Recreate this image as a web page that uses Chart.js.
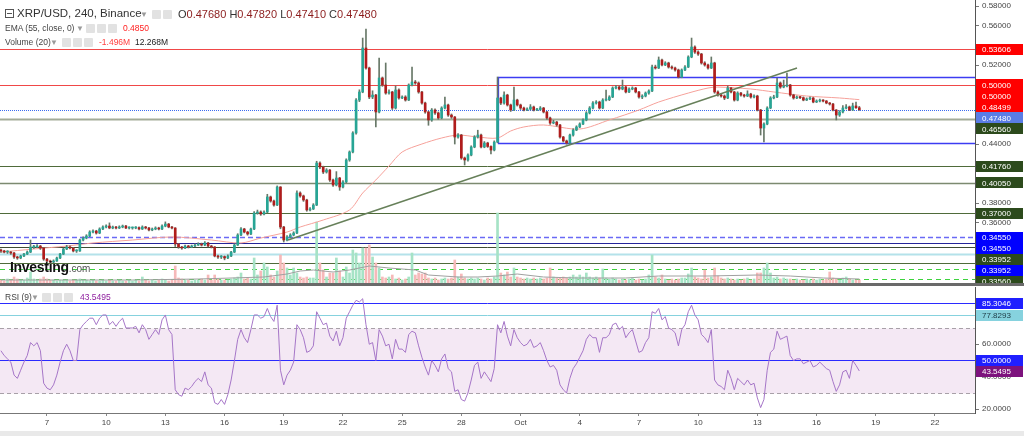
<!DOCTYPE html>
<html lang="en">
<head>
<meta charset="UTF-8">
<title>XRP/USD, 240, Binance</title>
<script src="https://cdn.jsdelivr.net/npm/chart.js"></script>
<style>
    html, body { margin: 0; padding: 0; background: #fff; }
    body { width: 1024px; height: 436px; position: relative; overflow: hidden; font-family: "Liberation Sans", Arial, sans-serif; }
    #priceCanvas { position: absolute; left: 0; top: 0; }
    #rsiCanvas { position: absolute; left: 0; top: 286px; }
    #sep { position: absolute; left: 0; top: 283px; width: 1024px; height: 3px; background: #6a6a6a; }
    #bottomBand { position: absolute; left: 0; top: 431px; width: 1024px; height: 5px; background: #e9e9e9; }
    .txt { position: absolute; white-space: nowrap; }
    .ico { position: absolute; width: 9px; height: 9px; background: #e2e2e2; border-radius: 1px; }
    .arr { position: absolute; color: #9a9a9a; font-size: 8px; }
</style>
</head>
<body>

<canvas id="priceCanvas" width="1024" height="283"></canvas>
<div id="sep"></div>
<canvas id="rsiCanvas" width="1024" height="150"></canvas>
<div id="bottomBand"></div>

<!-- legend, top left -->
<div class="txt" style="left:5px;top:9px;width:7px;height:7px;border:1px solid #555;"></div>
<div class="txt" style="left:7px;top:13px;width:5px;height:1px;background:#555;"></div>
<div class="txt" style="left:17px;top:7px;font-size:11.5px;color:#333;">XRP/USD, 240, Binance</div>
<div class="arr" style="left:140px;top:10px;">&#9660;</div>
<div class="ico" style="left:152px;top:10px;"></div>
<div class="ico" style="left:163px;top:10px;"></div>
<div class="txt" style="left:178px;top:8px;font-size:11px;color:#333;">O<span style="color:#8b1c1c">0.47680</span>&nbsp;H<span style="color:#8b1c1c">0.47820</span>&nbsp;L<span style="color:#8b1c1c">0.47410</span>&nbsp;C<span style="color:#8b1c1c">0.47480</span></div>

<div class="txt" style="left:5px;top:23px;font-size:8.5px;color:#444;">EMA (55, close, 0)</div>
<div class="arr" style="left:76px;top:24px;">&#9660;</div>
<div class="ico" style="left:86px;top:24px;"></div>
<div class="ico" style="left:97px;top:24px;"></div>
<div class="ico" style="left:108px;top:24px;"></div>
<div class="txt" style="left:123px;top:23px;font-size:8.5px;color:#ff2020;">0.4850</div>

<div class="txt" style="left:5px;top:37px;font-size:8.5px;color:#444;">Volume (20)</div>
<div class="arr" style="left:50px;top:38px;">&#9660;</div>
<div class="ico" style="left:62px;top:38px;"></div>
<div class="ico" style="left:73px;top:38px;"></div>
<div class="ico" style="left:84px;top:38px;"></div>
<div class="txt" style="left:99px;top:37px;font-size:8.5px;color:#ff4040;">-1.496M</div>
<div class="txt" style="left:135px;top:37px;font-size:8.5px;color:#222;">12.268M</div>

<div class="txt" style="left:10px;top:259px;font-size:14px;font-weight:bold;color:#111;letter-spacing:-0.3px;">Investing<span style="font-size:10px;font-weight:normal;color:#555;letter-spacing:0;">.com</span></div>

<div class="txt" style="left:5px;top:292px;font-size:8.5px;color:#444;">RSI (9)</div>
<div class="arr" style="left:31px;top:293px;">&#9660;</div>
<div class="ico" style="left:42px;top:293px;"></div>
<div class="ico" style="left:53px;top:293px;"></div>
<div class="ico" style="left:64px;top:293px;"></div>
<div class="txt" style="left:80px;top:292px;font-size:8.5px;color:#8e1f9e;">43.5495</div>

<script>
    // 240-minute candles, first one on 4 Sep 16:00 (x axis in days, Oct 1 = 31)
    const startDay = 4 + 16 / 24;
    const candleStep = 1 / 6;
    const firstOpen = 0.3320;

    const closes = [
        0.3315,0.3304,0.3304,0.3294,0.3254,0.3244,0.3264,0.3284,0.3304,0.3355,
        0.3355,0.3365,0.3345,0.3233,0.3213,0.3203,0.3213,0.3244,0.3284,0.3335,
        0.3355,0.3345,0.3315,0.3315,0.3426,0.3446,0.3467,0.3507,0.3517,0.3497,
        0.3538,0.3558,0.3568,0.3548,0.3558,0.3548,0.3558,0.3568,0.3548,0.3548,
        0.3548,0.3552,0.3538,0.3558,0.3548,0.3528,0.3538,0.3548,0.3538,0.3568,
        0.3588,0.3558,0.3548,0.3386,0.3355,0.3345,0.3365,0.3355,0.3365,0.3375,
        0.3386,0.3375,0.3396,0.3365,0.3355,0.3264,0.3254,0.3258,0.3244,0.3264,
        0.3304,0.3375,0.3477,0.3538,0.3507,0.3487,0.3538,0.3700,0.3710,0.3690,
        0.3710,0.3863,0.3822,0.3781,0.3964,0.3558,0.3426,0.3457,0.3477,0.3497,
        0.3903,0.3873,0.3832,0.3731,0.3741,0.3781,0.4207,0.4167,0.4116,0.4136,
        0.4035,0.3984,0.4055,0.3964,0.4015,0.4238,0.4319,0.4512,0.4846,0.4928,
        0.5374,0.5171,0.4877,0.4897,0.4725,0.5070,0.4999,0.4917,0.4928,0.4765,
        0.4948,0.4867,0.4877,0.4846,0.4999,0.5029,0.5019,0.4928,0.4816,0.4725,
        0.4644,0.4745,0.4715,0.4664,0.4765,0.4796,0.4694,0.4674,0.4471,0.4491,
        0.4258,0.4238,0.4288,0.4370,0.4471,0.4491,0.4370,0.4410,0.4375,0.4339,
        0.4420,0.4867,0.4816,0.4897,0.4796,0.4745,0.4846,0.4796,0.4765,0.4745,
        0.4755,0.4776,0.4745,0.4750,0.4765,0.4725,0.4664,0.4613,0.4623,0.4593,
        0.4471,0.4431,0.4410,0.4491,0.4542,0.4573,0.4603,0.4644,0.4715,0.4765,
        0.4816,0.4826,0.4765,0.4846,0.4850,0.4877,0.4968,0.4978,0.4958,0.4978,
        0.4928,0.4958,0.4968,0.4928,0.4877,0.4887,0.4917,0.4938,0.5181,0.5171,
        0.5252,0.5202,0.5222,0.5181,0.5171,0.5151,0.5080,0.5151,0.5181,0.5283,
        0.5384,0.5333,0.5313,0.5222,0.5202,0.5171,0.5222,0.4928,0.4897,0.4887,
        0.4867,0.4968,0.4928,0.4846,0.4917,0.4897,0.4887,0.4907,0.4877,0.4887,
        0.4745,0.4562,0.4603,0.4765,0.4867,0.4877,0.5019,0.4978,0.4988,0.4999,
        0.4897,0.4867,0.4877,0.4870,0.4846,0.4857,0.4867,0.4826,0.4836,0.4846,
        0.4836,0.4816,0.4806,0.4745,0.4694,0.4725,0.4765,0.4776,0.4745,0.4786,
        0.4768,0.4748
    ];
    const highs = [
        0.3335,0.3322,0.3318,0.3310,0.3300,0.3262,0.3272,0.3292,0.3315,0.3426,
        0.3372,0.3380,0.3372,0.3350,0.3240,0.3222,0.3225,0.3252,0.3292,0.3345,
        0.3372,0.3368,0.3352,0.3328,0.3436,0.3458,0.3480,0.3520,0.3530,0.3525,
        0.3550,0.3570,0.3580,0.3600,0.3568,0.3565,0.3570,0.3578,0.3575,0.3560,
        0.3558,0.3562,0.3560,0.3570,0.3565,0.3555,0.3548,0.3560,0.3556,0.3580,
        0.3610,0.3595,0.3566,0.3552,0.3392,0.3362,0.3375,0.3372,0.3375,0.3388,
        0.3398,0.3395,0.3410,0.3402,0.3372,0.3360,0.3272,0.3268,0.3265,0.3275,
        0.3312,0.3385,0.3490,0.3552,0.3545,0.3515,0.3548,0.3715,0.3730,0.3722,
        0.3722,0.3890,0.3872,0.3830,0.3975,0.3968,0.3565,0.3470,0.3490,0.3510,
        0.3925,0.3915,0.3882,0.3840,0.3755,0.3795,0.4225,0.4220,0.4175,0.4150,
        0.4142,0.4045,0.4120,0.4062,0.4030,0.4250,0.4330,0.4525,0.4860,0.4950,
        0.5475,0.5567,0.5180,0.4940,0.4905,0.5273,0.5080,0.5222,0.4950,0.4935,
        0.4990,0.4960,0.4890,0.4890,0.5010,0.5181,0.5045,0.5030,0.4935,0.4825,
        0.4732,0.4760,0.4758,0.4725,0.4778,0.4877,0.4805,0.4705,0.4680,0.4505,
        0.4498,0.4268,0.4300,0.4382,0.4485,0.4540,0.4500,0.4425,0.4418,0.4382,
        0.4432,0.5080,0.4875,0.4930,0.4905,0.4805,0.4978,0.4855,0.4805,0.4775,
        0.4768,0.4800,0.4785,0.4762,0.4780,0.4772,0.4732,0.4672,0.4640,0.4630,
        0.4600,0.4478,0.4440,0.4500,0.4555,0.4585,0.4615,0.4655,0.4728,0.4780,
        0.4830,0.4840,0.4835,0.4860,0.4948,0.4890,0.4980,0.4995,0.4990,0.5049,
        0.4985,0.4970,0.4980,0.4975,0.4935,0.4900,0.4928,0.4950,0.5200,0.5200,
        0.5283,0.5262,0.5235,0.5230,0.5192,0.5180,0.5160,0.5162,0.5195,0.5295,
        0.5475,0.5395,0.5345,0.5320,0.5235,0.5212,0.5283,0.5230,0.4940,0.4910,
        0.4898,0.4990,0.4975,0.4935,0.4930,0.4925,0.4905,0.4940,0.4915,0.4898,
        0.4895,0.4752,0.4615,0.4778,0.4880,0.4895,0.5070,0.5030,0.5049,0.5120,
        0.5005,0.4905,0.4888,0.4885,0.4878,0.4868,0.4878,0.4872,0.4848,0.4856,
        0.4852,0.4842,0.4822,0.4812,0.4750,0.4738,0.4790,0.4800,0.4785,0.4815,
        0.4825,0.4782
    ];
    const lows = [
        0.3300,0.3295,0.3290,0.3280,0.3240,0.3230,0.3236,0.3258,0.3278,0.3298,
        0.3340,0.3348,0.3330,0.3220,0.3200,0.3190,0.3195,0.3208,0.3238,0.3278,
        0.3328,0.3335,0.3305,0.3300,0.3310,0.3418,0.3438,0.3460,0.3498,0.3486,
        0.3490,0.3530,0.3550,0.3540,0.3540,0.3538,0.3542,0.3550,0.3540,0.3538,
        0.3536,0.3540,0.3528,0.3532,0.3538,0.3518,0.3520,0.3530,0.3528,0.3532,
        0.3560,0.3550,0.3538,0.3360,0.3342,0.3332,0.3338,0.3345,0.3348,0.3358,
        0.3370,0.3365,0.3368,0.3355,0.3345,0.3255,0.3240,0.3238,0.3225,0.3236,
        0.3258,0.3298,0.3370,0.3470,0.3498,0.3475,0.3480,0.3530,0.3688,0.3676,
        0.3680,0.3702,0.3810,0.3770,0.3775,0.3540,0.3406,0.3418,0.3448,0.3468,
        0.3490,0.3860,0.3818,0.3718,0.3722,0.3735,0.3775,0.4150,0.4100,0.4105,
        0.4020,0.3970,0.3975,0.3930,0.3955,0.4008,0.4225,0.4310,0.4500,0.4830,
        0.4920,0.5160,0.4860,0.4860,0.4573,0.4715,0.4985,0.4905,0.4905,0.4750,
        0.4755,0.4855,0.4860,0.4835,0.4840,0.4990,0.5005,0.4915,0.4805,0.4712,
        0.4590,0.4630,0.4700,0.4650,0.4655,0.4755,0.4680,0.4660,0.4400,0.4460,
        0.4245,0.4187,0.4225,0.4280,0.4362,0.4460,0.4360,0.4362,0.4365,0.4300,
        0.4330,0.4412,0.4800,0.4805,0.4785,0.4730,0.4738,0.4785,0.4750,0.4735,
        0.4738,0.4745,0.4735,0.4738,0.4742,0.4715,0.4650,0.4600,0.4605,0.4580,
        0.4460,0.4420,0.4398,0.4402,0.4480,0.4535,0.4565,0.4595,0.4635,0.4705,
        0.4755,0.4805,0.4755,0.4758,0.4836,0.4840,0.4870,0.4958,0.4948,0.4950,
        0.4918,0.4920,0.4950,0.4918,0.4865,0.4860,0.4878,0.4905,0.4930,0.5160,
        0.5165,0.5192,0.5195,0.5170,0.5160,0.5140,0.5070,0.5072,0.5145,0.5175,
        0.5275,0.5320,0.5300,0.5210,0.5190,0.5160,0.5165,0.4915,0.4885,0.4875,
        0.4850,0.4860,0.4918,0.4835,0.4838,0.4885,0.4875,0.4880,0.4865,0.4868,
        0.4735,0.4491,0.4420,0.4595,0.4758,0.4858,0.4870,0.4965,0.4970,0.4980,
        0.4885,0.4855,0.4860,0.4860,0.4838,0.4840,0.4850,0.4818,0.4820,0.4828,
        0.4826,0.4808,0.4795,0.4735,0.4644,0.4680,0.4715,0.4755,0.4738,0.4740,
        0.4760,0.4741
    ];
    // volume, millions
    const volumes = [
        12,8,16,12,24,16,12,12,20,44,
        16,12,16,24,16,12,12,8,12,12,
        12,8,12,12,16,12,12,8,12,8,
        8,12,8,12,8,8,12,8,8,12,
        8,12,8,24,12,8,12,8,12,16,
        12,8,12,68,20,16,12,12,8,12,
        12,16,12,32,12,32,16,12,12,12,
        16,20,24,40,16,20,16,100,32,48,
        80,64,32,24,48,112,80,60,32,60,
        40,24,20,24,20,20,244,80,52,24,
        40,40,100,48,24,64,40,132,120,80,
        140,140,152,104,80,60,24,20,24,32,
        16,20,12,16,24,120,32,40,36,40,
        20,16,20,12,16,20,16,20,92,24,
        36,20,16,20,16,20,16,12,20,16,
        24,280,40,32,44,24,60,24,20,16,
        20,16,20,16,20,16,20,60,24,20,
        20,24,20,24,32,24,32,24,40,24,
        20,24,20,56,20,16,20,16,12,16,
        12,16,20,12,16,12,16,32,112,24,
        20,32,16,12,16,12,16,20,20,36,
        60,24,20,16,52,20,24,60,28,20,
        16,20,16,12,16,12,16,20,12,16,
        40,40,60,80,40,20,24,16,20,16,
        16,12,16,12,12,16,12,16,12,16,
        12,16,44,20,16,12,20,24,16,12,
        12,12.268
    ];

    // EMA (55) at these candle indices
    const emaIdx  = [0,10,20,28,40,52,64,73,79,87,91,98,106,110,114,118,122,128,134,139,145,151,155,159,165,176,185,194,200,209,215,218,228,235,245,255,261];
    const emaVals = [0.3304,0.3335,0.3365,0.3396,0.3426,0.3457,0.3426,0.3396,0.3446,0.3507,0.3558,0.3629,0.3731,0.3903,0.4035,0.4177,0.4319,0.4400,0.4461,0.4491,0.4471,0.4461,0.4532,0.4573,0.4593,0.4552,0.4644,0.4745,0.4826,0.4917,0.4968,0.4978,0.4958,0.4928,0.4887,0.4867,0.4850];

    // Volume MA (20)
    const volMaIdx  = [0,40,60,80,87,91,95,101,106,112,118,126,130,139,145,151,157,165,175,190,200,215,230,240,250,261];
    const volMaVals = [12,12,16,24,36,48,52,44,52,68,60,52,32,24,24,28,36,24,20,20,28,28,32,28,20,16];

    // RSI (9), one value per candle
    const rsiVals = [
        56,53,51,49,41,39,44,49,53,61,
        59,61,56,36,33,32,35,41,49,56,
        60,56,50,50,69,72,74,76,76,72,
        76,78,78,72,74,71,74,76,70,70,
        70,71,67,72,69,63,66,69,66,75,
        78,69,66,32,29,28,33,32,34,37,
        39,37,43,35,33,24,23,26,23,29,
        38,50,63,69,64,61,69,78,78,76,
        77,82,77,74,84,44,35,41,44,49,
        72,69,64,55,56,59,80,76,72,73,
        65,62,68,59,64,76,80,84,87,86,
        88,72,60,61,50,69,65,59,60,51,
        63,57,57,55,66,68,67,59,52,46,
        41,50,47,43,51,54,45,43,31,32,
        26,25,30,38,47,49,39,43,40,37,
        45,72,67,74,65,59,69,64,61,59,
        60,63,58,59,61,56,50,46,47,44,
        35,32,30,39,45,48,52,56,63,66,
        64,64,55,64,64,66,72,73,69,71,
        64,67,69,62,55,56,61,64,80,79,
        82,75,77,70,69,67,59,69,72,80,
        84,78,75,66,64,61,69,38,35,34,
        32,44,39,32,39,37,35,38,35,36,
        27,21,26,44,55,57,68,63,64,65,
        53,50,51,51,48,49,50,46,47,49,
        47,45,44,37,31,35,43,44,39,50,
        47,43.5495
    ];

    // drawings
    const trendDays = [19.22, 45.01];
    const trendPrices = [0.3426, 0.5171];
    const boxStartIdx = 151;
    const boxTop = 0.508;
    const boxBottom = 0.441;

    const levelPrices = [0.53606, 0.5, 0.4748, 0.4656, 0.4176, 0.4005, 0.37, 0.3455, 0.33952, 0.3356, 0.3284, 0.3193, 0.3132, 0.3031];
    const levelStyles = [
        { color: '#f04848', width: 1 },
        { color: '#f04848', width: 1 },
        { color: '#3d6cf0', width: 1, dash: [1, 1] },
        { color: '#a3ab98', width: 2 },
        { color: '#4f6b3a', width: 1 },
        { color: '#7c8a70', width: 1.5 },
        { color: '#4f6b3a', width: 1 },
        { color: '#6a6af5', width: 1.5, dash: [5, 3] },
        { color: '#24249a', width: 1 },
        { color: '#3e4a32', width: 1 },
        { color: '#b4e2ea', width: 2 },
        { color: '#4f6b3a', width: 1 },
        { color: '#3ed23e', width: 1, dash: [5, 4] },
        { color: '#3ed23e', width: 1, dash: [5, 4] }
    ];

    const priceTicks = [0.58, 0.56, 0.52, 0.44, 0.38, 0.36];
    const priceLabels = [0.53606, 0.5, 0.5, 0.48499, 0.4748, 0.4656, 0.4176, 0.4005, 0.37, 0.3455, 0.3455, 0.33952, 0.33952, 0.3356];
    const priceLabelBg = ['#ff0000','#ff0000','#ff0000','#ff0000','#5a7de6','#2c4a1c','#2c4a1c','#2c4a1c','#2c4a1c','#0000ff','#0000ff','#2c4a1c','#0000ff','#2c4a1c'];

    const rsiTicks = [60, 40, 20];
    const rsiLevels = [85.3046, 77.8293, 50];
    const rsiLevelColors = ['#2b2bff', '#86d2de', '#2b2bff'];
    const rsiLabels = [85.3046, 77.8293, 50, 43.5495];
    const rsiLabelBg = ['#1f1fff', '#86d2de', '#1f1fff', '#7d127d'];
    const rsiLabelFg = ['#fff', '#1d3b46', '#fff', '#fff'];

    const dayTicks  = [7, 10, 13, 16, 19, 22, 25, 28, 31, 34, 37, 40, 43, 46, 49, 52];
    const dayLabels = ['7','10','13','16','19','22','25','28','Oct','4','7','10','13','16','19','22'];

    const xMin = 4.62, xMax = 54.03;
    const tOf = k => startDay + k * candleStep;

    const UP = '#27a595', DOWN = '#b01c1c', WICK = '#687868';
    const opens = closes.map((c, i) => i === 0 ? firstOpen : closes[i - 1]);
    const isUp = closes.map((c, i) => c >= opens[i]);

    const bodyData = closes.map((c, i) => ({ x: tOf(i), y: [opens[i], c] }));
    const wickData = closes.map((c, i) => ({ x: tOf(i), y: [lows[i], highs[i]] }));
    const volData = volumes.map((v, i) => ({ x: tOf(i), y: v }));
    const emaData = emaIdx.map((k, i) => ({ x: tOf(k), y: emaVals[i] }));
    const volMaData = volMaIdx.map((k, i) => ({ x: tOf(k), y: volMaVals[i] }));
    const rsiData = rsiVals.map((v, i) => ({ x: tOf(i), y: v }));

    const FONT = '"Liberation Sans", Arial, sans-serif';

    function axisLabels(chart, vals, bg, fg, digits) {
        const { ctx, chartArea, scales: { y } } = chart;
        const h = 11;
        let prevBottom = -1e9;
        ctx.save();
        ctx.font = '8px ' + FONT;
        ctx.textBaseline = 'middle';
        vals.forEach((v, i) => {
            let cy = y.getPixelForValue(v);
            if (cy - h / 2 < prevBottom) cy = prevBottom + h / 2;
            prevBottom = cy + h / 2;
            ctx.fillStyle = bg[i];
            ctx.fillRect(chartArea.right + 1, Math.round(cy - h / 2), 47, h);
            ctx.fillStyle = fg ? fg[i] : '#fff';
            ctx.fillText(v.toFixed(digits), chartArea.right + 7, Math.round(cy) + 0.5);
        });
        ctx.restore();
    }

    function hLine(ctx, x0, x1, y, style) {
        ctx.save();
        ctx.strokeStyle = style.color;
        ctx.lineWidth = style.width || 1;
        ctx.setLineDash(style.dash || []);
        ctx.beginPath();
        ctx.moveTo(x0, y);
        ctx.lineTo(x1, y);
        ctx.stroke();
        ctx.restore();
    }

    const priceDrawings = {
        id: 'priceDrawings',
        beforeDatasetsDraw(chart) {
            const { ctx, chartArea, scales: { x, y } } = chart;
            levelPrices.forEach((p, i) => {
                const py = Math.round(y.getPixelForValue(p)) + 0.5;
                hLine(ctx, chartArea.left, chartArea.right, py, levelStyles[i]);
            });
            const bx = Math.round(x.getPixelForValue(tOf(boxStartIdx))) + 0.5;
            const by0 = Math.round(y.getPixelForValue(boxTop)) + 0.5;
            const by1 = Math.round(y.getPixelForValue(boxBottom)) + 0.5;
            ctx.save();
            ctx.strokeStyle = '#3c3cf2';
            ctx.lineWidth = 1.3;
            ctx.beginPath();
            ctx.moveTo(chartArea.right, by0);
            ctx.lineTo(bx, by0);
            ctx.lineTo(bx, by1);
            ctx.lineTo(chartArea.right, by1);
            ctx.stroke();
            ctx.restore();
        },
        afterDraw(chart) {
            axisLabels(chart, priceLabels, priceLabelBg, null, 5);
        }
    };

    new Chart(document.getElementById('priceCanvas'), {
        data: {
            datasets: [
                {
                    type: 'bar', data: volData, yAxisID: 'yv', grouped: false, barThickness: 2,
                    backgroundColor: isUp.map(u => u ? '#a6e3c6' : '#f6b9b9'), order: 6
                },
                {
                    type: 'line', data: volMaData, yAxisID: 'yv', borderColor: '#a0a0a0', borderWidth: 1,
                    pointRadius: 0, tension: 0, order: 5
                },
                {
                    type: 'line', data: emaData, borderColor: '#f6a19a', borderWidth: 1,
                    pointRadius: 0, tension: 0.3, order: 4
                },
                {
                    type: 'bar', data: wickData, grouped: false, barThickness: 1,
                    backgroundColor: WICK, order: 3
                },
                {
                    type: 'bar', data: bodyData, grouped: false, barThickness: 2, minBarLength: 1,
                    backgroundColor: isUp.map(u => u ? UP : DOWN), order: 2
                },
                {
                    type: 'line', data: trendDays.map((d, i) => ({ x: d, y: trendPrices[i] })),
                    borderColor: '#67805a', borderWidth: 1.5, pointRadius: 0, order: 1
                }
            ]
        },
        options: {
            responsive: false,
            animation: false,
            layout: { padding: 0 },
            plugins: { legend: { display: false }, tooltip: { enabled: false } },
            scales: {
                x: { type: 'linear', min: xMin, max: xMax, offset: false, display: false },
                y: {
                    position: 'right', min: 0.299, max: 0.5861,
                    grid: { drawOnChartArea: false, drawTicks: true, tickLength: 4, color: '#777' },
                    border: { color: '#555' },
                    ticks: { font: { size: 8, family: FONT }, color: '#444', padding: 3, callback: v => v.toFixed(5) },
                    afterBuildTicks: s => { s.ticks = priceTicks.map(v => ({ value: v })); },
                    afterFit: s => { s.width = 49; s.paddingTop = 0; s.paddingBottom = 0; }
                },
                yv: { display: false, min: 0, max: 1132 }
            }
        },
        plugins: [priceDrawings]
    });

    const rsiDrawings = {
        id: 'rsiDrawings',
        beforeDatasetsDraw(chart) {
            const { ctx, chartArea, scales: { y } } = chart;
            const y70 = Math.round(y.getPixelForValue(70)) + 0.5;
            const y30 = Math.round(y.getPixelForValue(30)) + 0.5;
            ctx.save();
            ctx.fillStyle = '#f4e8f4';
            ctx.fillRect(chartArea.left, y70, chartArea.right - chartArea.left, y30 - y70);
            ctx.restore();
            hLine(ctx, chartArea.left, chartArea.right, y70, { color: '#a8a0a8', width: 1, dash: [4, 3] });
            hLine(ctx, chartArea.left, chartArea.right, y30, { color: '#a8a0a8', width: 1, dash: [4, 3] });
            rsiLevels.forEach((v, i) => {
                hLine(ctx, chartArea.left, chartArea.right, Math.round(y.getPixelForValue(v)) + 0.5, { color: rsiLevelColors[i], width: 1 });
            });
        },
        afterDraw(chart) {
            axisLabels(chart, rsiLabels, rsiLabelBg, rsiLabelFg, 4);
        }
    };

    new Chart(document.getElementById('rsiCanvas'), {
        type: 'line',
        data: {
            datasets: [{
                data: rsiData, borderColor: '#a676c8', borderWidth: 1, pointRadius: 0, tension: 0
            }]
        },
        options: {
            responsive: false,
            animation: false,
            layout: { padding: { top: 1 } },
            plugins: { legend: { display: false }, tooltip: { enabled: false } },
            scales: {
                x: {
                    type: 'linear', min: xMin, max: xMax,
                    grid: { drawOnChartArea: false, drawTicks: true, tickLength: 3, color: '#888' },
                    border: { color: '#777' },
                    ticks: {
                        font: { size: 8, family: FONT }, color: '#444', padding: 2, autoSkip: false, maxRotation: 0,
                        callback: v => { const i = dayTicks.indexOf(v); return i < 0 ? '' : dayLabels[i]; }
                    },
                    afterBuildTicks: s => { s.ticks = dayTicks.map(v => ({ value: v })); },
                    afterFit: s => { s.height = 23; s.paddingLeft = 0; s.paddingRight = 0; }
                },
                y: {
                    position: 'right', min: 17.7, max: 95.2,
                    grid: { drawOnChartArea: false, drawTicks: true, tickLength: 4, color: '#777' },
                    border: { color: '#555' },
                    ticks: { font: { size: 8, family: FONT }, color: '#444', padding: 3, callback: v => v.toFixed(4) },
                    afterBuildTicks: s => { s.ticks = rsiTicks.map(v => ({ value: v })); },
                    afterFit: s => { s.width = 49; s.paddingTop = 0; s.paddingBottom = 0; }
                }
            }
        },
        plugins: [rsiDrawings]
    });
</script>

</body>
</html>
